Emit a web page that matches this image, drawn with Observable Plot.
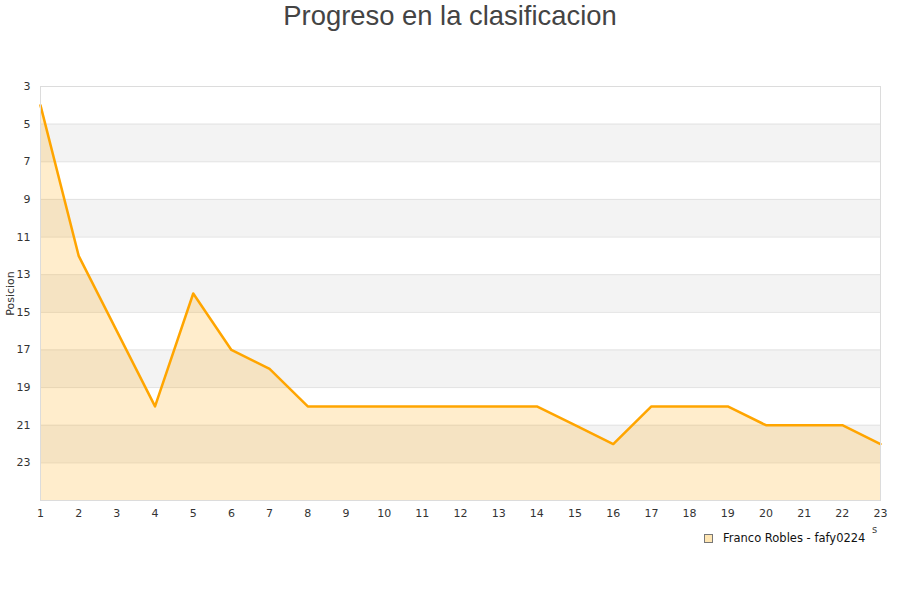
<!DOCTYPE html>
<html>
<head>
<meta charset="utf-8">
<script src="https://cdn.jsdelivr.net/npm/d3@7"></script>
<script src="https://cdn.jsdelivr.net/npm/@observablehq/plot@0.6"></script>
<style>
  html, body { margin: 0; padding: 0; background: #fff; }
  #wrap { position: relative; width: 900px; height: 600px; overflow: hidden; }
  #title { position: absolute; left: 0; top: 0; width: 900px; text-align: center;
    font-family: "Liberation Sans", Arial, sans-serif; font-size: 27.4px; color: #444; line-height: 32px; }
  #chart { position: absolute; left: 0; top: 44px; }
  #legend { position: absolute; left: 704px; top: 531px; font-family: "DejaVu Sans", sans-serif;
    font-size: 11.5px; color: #111; display: flex; align-items: center; }
  #legend .sw { width: 7px; height: 7px; border: 1px solid #777; background: #ffe6b3; margin-right: 10px; }
  #xlab { position: absolute; left: 872px; top: 524px; font-family: "DejaVu Sans", sans-serif; font-size: 10px; color: #444; }
</style>
</head>
<body>
<div id="wrap">
  <div id="title">Progreso en la clasificacion</div>
  <div id="chart"></div>
  <div id="xlab">s</div>
  <div id="legend"><div class="sw"></div><span>Franco Robles - fafy0224</span></div>
</div>
<script>
const jornadas = [1,2,3,4,5,6,7,8,9,10,11,12,13,14,15,16,17,18,19,20,21,22,23];
const posiciones = [4,12,16,20,14,17,18,20,20,20,20,20,20,20,21,22,20,20,20,21,21,21,22];
const yTicks = [3,5,7,9,11,13,15,17,19,21,23];
const bandStart = [5,9,13,17,21];
const bandEnd = [7,11,15,19,23];
const serieNombre = "Franco Robles - fafy0224";

const data = jornadas.map((j, i) => ({jornada: j, pos: posiciones[i]}));
const bands = bandStart.map((s, i) => ({y1: s, y2: bandEnd[i]}));
const yMin = 3, yMax = 25;

const chart = Plot.plot({
  width: 900,
  height: 486,
  marginTop: 42,
  marginLeft: 40,
  marginRight: 20,
  marginBottom: 30,
  style: {fontFamily: "DejaVu Sans, sans-serif", fontSize: "11px", color: "#333", background: "transparent"},
  x: {domain: [1, 23]},
  y: {domain: [yMin, yMax], reverse: true},
  marks: [
    Plot.rect(bands, {x1: 1, x2: 23, y1: "y1", y2: "y2", fill: "#f3f3f3"}),
    Plot.ruleY(yTicks.concat([yMax]), {stroke: "#e2e2e2", strokeWidth: 1}),
    Plot.areaY(data, {x: "jornada", y1: yMax, y2: "pos", fill: "#ffa500", fillOpacity: 0.2}),
    Plot.lineY(data, {x: "jornada", y: "pos", stroke: "#ffa500", strokeWidth: 2.5}),
    Plot.frame({stroke: "#dcdcdc"}),
    Plot.axisX({ticks: jornadas, tickSize: 0, tickPadding: 9, label: null, tickFormat: d => String(d)}),
    Plot.axisY({ticks: yTicks, tickSize: 0, tickPadding: 10, label: "Posicion", labelAnchor: "center", labelArrow: false, labelOffset: 34, tickFormat: d => String(d)})
  ]
});
document.getElementById("chart").appendChild(chart);
</script>
</body>
</html>
